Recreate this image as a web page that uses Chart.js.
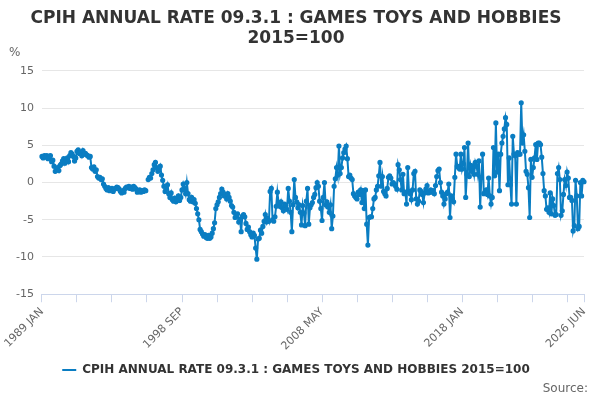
<!DOCTYPE html>
<html><head><meta charset="utf-8">
<script src="https://cdn.jsdelivr.net/npm/chart.js@4"></script>
<style>
html,body{margin:0;padding:0;background:#fff;font-family:"DejaVu Sans",sans-serif;}
#wrap{position:relative;width:600px;height:400px;}
#pct{position:absolute;left:9px;top:45px;font-size:12px;color:#666;}
#src{position:absolute;right:12px;top:381px;font-size:12px;color:#666;}
</style></head><body>
<div id="wrap"><canvas id="c" width="600" height="400"></canvas><div id="pct">%</div><div id="src">Source:</div></div>
<script>
const seriesName = "CPIH ANNUAL RATE 09.3.1 : GAMES TOYS AND HOBBIES 2015=100";
const monthNames = ["JAN","FEB","MAR","APR","MAY","JUN","JUL","AUG","SEP","OCT","NOV","DEC"];
const startYear = 1989;
const yTicks = [-15,-10,-5,0,5,10,15];
const values = [
 3.5,3.3,3.6,3.4,3.6,3.2,3.5,3.6,2.8,3.0,2.2,1.5,
 1.8,2.0,1.6,2.3,2.5,2.9,3.2,2.6,3.1,3.3,2.8,3.6,
 4.0,3.8,3.5,2.9,3.3,4.2,4.4,3.9,4.1,3.6,4.3,3.8,
 3.9,3.7,3.6,3.4,3.5,2.0,1.8,2.1,1.5,1.7,0.8,0.6,
 0.7,0.4,0.5,-0.2,-0.5,-0.8,-1.0,-0.7,-1.1,-0.9,-0.8,-1.2,
 -0.9,-0.8,-0.6,-0.7,-0.9,-1.2,-1.4,-1.1,-1.3,-0.8,-0.6,-0.7,
 -0.5,-0.8,-0.6,-0.9,-0.5,-0.7,-0.9,-1.3,-1.2,-1.0,-1.3,-1.1,
 -1.2,-1.0,-1.1,null,0.4,0.7,0.6,1.2,1.7,2.4,2.7,2.0,
 1.5,1.8,2.2,1.0,0.3,-0.5,-1.2,-0.8,-0.3,-1.5,-2.0,-1.4,
 -2.3,-2.5,-2.1,-2.6,-2.2,-1.8,-2.4,-2.0,-1.0,-0.2,-0.8,-1.5,
 0.0,-1.5,-2.3,-2.5,-2.0,-2.6,-2.3,-2.8,-3.5,-4.2,-5.0,-6.3,
 -6.6,-6.9,-7.2,-7.0,-7.4,-7.5,-7.1,-7.5,-7.3,-6.8,-6.2,-5.4,
 -3.5,-3.0,-2.6,-2.0,-1.5,-0.9,-1.3,-1.8,-1.6,-2.2,-1.5,-2.0,
 -2.5,-3.1,-3.3,-4.0,-4.7,-4.4,-4.2,-5.3,-4.9,-6.6,-4.5,-4.3,
 -4.6,-5.5,-6.3,-6.0,-6.6,-7.0,-7.3,-6.8,-7.1,-8.8,-10.3,-7.6,
 -7.5,-6.4,-6.8,-5.9,-5.2,-4.3,-5.3,-4.8,-5.2,-1.2,-0.8,-5.0,
 -5.2,-4.6,-3.2,-1.3,-2.7,-3.2,-2.6,-3.4,-3.8,-2.9,-3.1,-3.6,
 -0.8,-2.5,-4.0,-6.6,-3.0,0.4,-2.0,-2.6,-3.4,-3.0,-4.0,-5.7,
 -3.1,-4.1,-5.8,-2.5,-0.8,-5.6,-3.4,-3.0,-2.7,-2.0,-1.6,-0.7,
 0.0,-0.5,-2.5,-3.5,-5.1,-2.0,0.0,-3.0,-2.6,-3.3,-4.0,-3.0,
 -6.2,-4.5,-0.5,0.5,2.0,1.0,4.9,1.2,2.0,3.3,4.0,4.5,
 4.9,3.2,0.8,1.0,0.6,0.4,-1.5,-1.8,-2.0,-2.2,-1.3,-1.6,
 -1.0,-2.7,-1.1,-3.5,-1.0,-5.6,-8.4,-4.7,-4.6,-4.6,-3.5,-2.2,
 -2.0,-1.0,-0.5,0.9,2.7,-0.5,0.8,-1.2,-1.5,-1.8,-0.8,0.7,
 0.9,0.6,-0.2,0.0,-0.2,-0.5,-0.9,2.4,1.7,0.4,-1.0,1.1,
 -1.5,-1.3,-2.9,2.0,-1.2,-1.5,-2.3,-1.0,1.2,1.5,-2.2,-2.9,
 -2.5,-1.0,-1.2,-1.6,-2.7,-1.4,-0.9,-0.4,-1.4,-1.3,-1.0,-1.3,
 -1.1,-1.5,-0.4,0.8,1.6,1.8,0.0,-1.3,-1.8,-2.9,-2.2,-1.5,
 -1.3,-0.2,-4.7,-1.8,-2.2,-2.6,0.7,3.8,2.2,2.0,1.8,3.8,
 1.8,2.5,4.7,-2.0,1.1,5.3,0.8,2.3,1.5,2.2,1.1,2.7,
 2.2,1.1,2.9,-3.3,0.7,3.8,-1.5,-1.3,-1.0,-1.6,0.6,-1.8,
 -2.9,-2.0,4.7,0.9,8.0,1.4,3.8,-1.1,3.8,5.3,6.2,7.2,
 8.7,7.8,-0.3,3.3,-0.3,-2.9,6.2,3.8,3.6,-2.9,4.0,3.8,
 3.8,10.7,5.3,6.4,4.2,1.5,1.1,-0.7,-4.7,3.1,0.7,2.0,
 3.3,5.1,3.1,5.3,5.3,5.1,3.4,1.2,-1.1,-1.8,-3.6,-3.4,
 -4.0,-1.4,-4.2,-2.2,-3.1,-4.4,-4.3,1.2,2.0,0.4,-4.4,-3.8,
 -1.6,0.4,-0.4,1.4,0.6,-2.0,-2.0,-2.4,-6.5,-5.8,0.3,-1.8,
 -6.2,-5.9,0.0,-1.8,0.3,0.1
];
const labels = values.map((v,i)=> (startYear + Math.floor(i/12)) + " " + monthNames[i%12]);
const last = labels.length - 1;
const color = "#0a7dc2";
new Chart(document.getElementById('c'), {
  type:'line',
  data:{labels:labels, datasets:[{label:seriesName, data:values, borderColor:color, backgroundColor:color,
    borderWidth:2, pointRadius:1.6, pointHoverRadius:3, spanGaps:false, tension:0}]},
  options:{
    responsive:false, animation:false,
    layout:{padding:{left:8,right:16,top:0,bottom:14}},
    plugins:{
      title:{display:true, text:["CPIH ANNUAL RATE 09.3.1 : GAMES TOYS AND HOBBIES","2015=100"],
        color:"#333", font:{family:"DejaVu Sans", size:17}, padding:{top:8,bottom:22}, lineHeight:1.2},
      legend:{position:'bottom', labels:{usePointStyle:true, pointStyle:'line', pointStyleWidth:14, boxHeight:2,
        color:"#333", font:{family:"DejaVu Sans", size:12, weight:'bold'}, padding:8}},
      tooltip:{enabled:false}
    },
    scales:{
      x:{
        afterBuildTicks:(s)=>{ s.ticks = s.ticks.filter(t=> t.value%29===0 || t.value===last); },
        ticks:{autoSkip:false, minRotation:45, maxRotation:45, color:"#666", font:{family:"DejaVu Sans", size:11},
          callback:function(v){ return (v%116===0 || v===last) ? labels[v] : ''; }},
        grid:{drawOnChartArea:false, color:"#ccd6eb", tickLength:8},
        border:{color:"#ccd6eb"}
      },
      y:{min:-15, max:15,
        afterBuildTicks:(s)=>{ s.ticks = yTicks.map(v=>({value:v})); },
        ticks:{color:"#666", font:{family:"DejaVu Sans", size:11}, padding:8},
        grid:{color:"#e6e6e6", drawTicks:false},
        border:{display:false}
      }
    }
  }
});
</script></body></html>
